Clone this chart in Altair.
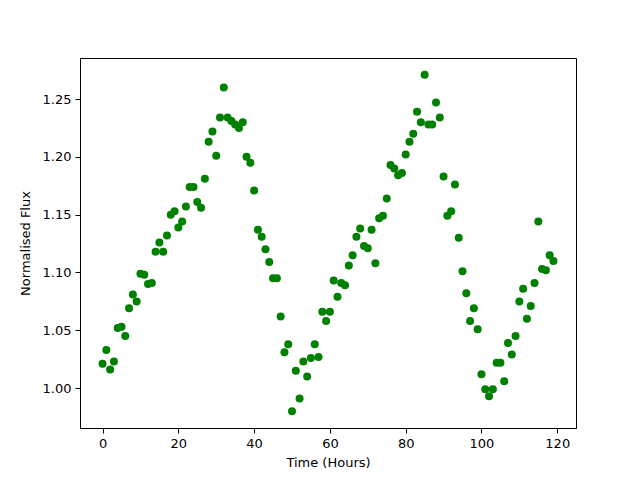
import altair as alt
import pandas as pd

hours = list(range(120))
flux = [
    1.021, 1.033, 1.016, 1.023, 1.052, 1.053, 1.045, 1.069, 1.081, 1.075,
    1.099, 1.098, 1.090, 1.091, 1.118, 1.126, 1.118, 1.132, 1.150, 1.153,
    1.139, 1.144, 1.157, 1.174, 1.174, 1.161, 1.156, 1.181, 1.213, 1.222,
    1.201, 1.234, 1.260, 1.234, 1.231, 1.228, 1.225, 1.230, 1.200, 1.195,
    1.171, 1.137, 1.131, 1.120, 1.109, 1.095, 1.095, 1.062, 1.031, 1.038,
    0.980, 1.015, 0.991, 1.023, 1.010, 1.026, 1.038, 1.027, 1.066, 1.058,
    1.066, 1.093, 1.079, 1.091, 1.089, 1.106, 1.115, 1.131, 1.138, 1.123,
    1.121, 1.137, 1.108, 1.147, 1.149, 1.164, 1.193, 1.190, 1.184, 1.186,
    1.202, 1.213, 1.220, 1.239, 1.230, 1.271, 1.228, 1.228, 1.247, 1.234,
    1.183, 1.149, 1.153, 1.176, 1.130, 1.101, 1.082, 1.058, 1.069, 1.051,
    1.012, 0.999, 0.993, 0.999, 1.022, 1.022, 1.006, 1.039, 1.029, 1.045,
    1.075, 1.086, 1.060, 1.071, 1.091, 1.144, 1.103, 1.102, 1.115, 1.110,
]
x_ticks = [0, 20, 40, 60, 80, 100, 120]
y_ticks = [1.00, 1.05, 1.10, 1.15, 1.20, 1.25]

df = pd.DataFrame({"hour": hours, "flux": flux})

chart = (
    alt.Chart(df)
    .mark_circle(size=64, color="#008000", opacity=1)
    .encode(
        x=alt.X(
            "hour:Q",
            scale=alt.Scale(domain=[-5.95, 124.95], nice=False, zero=False),
            axis=alt.Axis(title="Time (Hours)", values=x_ticks, format="d", titlePadding=6),
        ),
        y=alt.Y(
            "flux:Q",
            scale=alt.Scale(domain=[0.9655, 1.2855], nice=False, zero=False),
            axis=alt.Axis(title="Normalised Flux", values=y_ticks, format=".2f", titlePadding=10),
        ),
    )
    .properties(
        width=496,
        height=370,
        autosize=alt.AutoSizeParams(type="none"),
        padding={"left": 72, "top": 50, "right": 48, "bottom": 44},
    )
    .configure_view(stroke="black", strokeWidth=1)
    .configure_axis(
        grid=False,
        domainColor="black",
        tickColor="black",
        tickSize=5,
        labelFont="DejaVu Sans",
        titleFont="DejaVu Sans",
        labelFontSize=13,
        titleFontSize=13,
        labelColor="black",
        titleColor="black",
        titleFontWeight="normal",
        labelPadding=4,
    )
)

chart.save("out.html", embed_options={"renderer": "svg", "actions": False})
